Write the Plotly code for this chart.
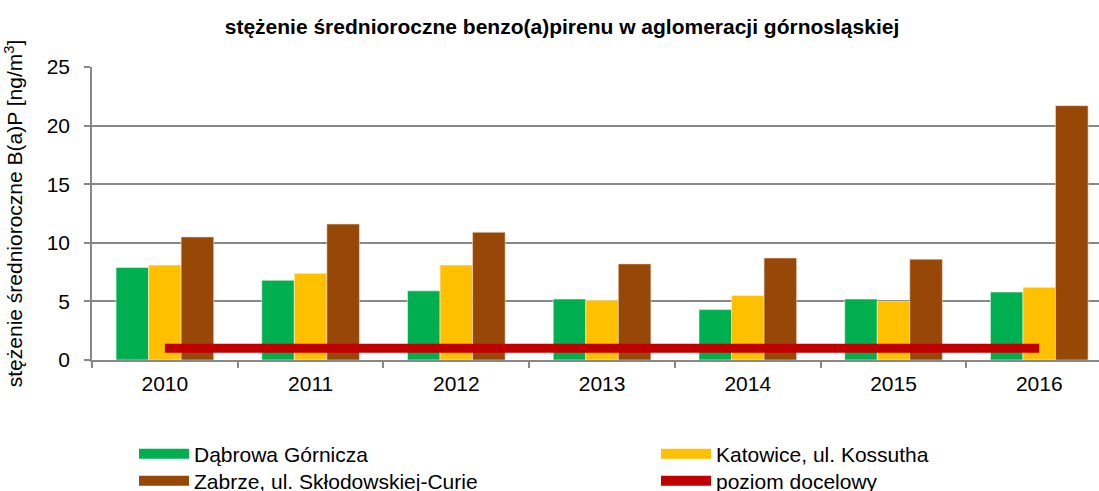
import plotly.graph_objects as go

years = ["2010", "2011", "2012", "2013", "2014", "2015", "2016"]
dabrowa = [7.9, 6.8, 5.9, 5.2, 4.3, 5.2, 5.8]
katowice = [8.1, 7.4, 8.1, 5.1, 5.5, 5.0, 6.2]
zabrze = [10.5, 11.6, 10.9, 8.2, 8.7, 8.6, 21.7]
poziom = [1, 1, 1, 1, 1, 1, 1]

names = ["Dąbrowa Górnicza", "Katowice, ul. Kossutha",
         "Zabrze, ul. Skłodowskiej-Curie", "poziom docelowy"]
colors = ["#00B050", "#FFC000", "#974706", "#C00000"]
edge = ["#E6F5EA", "#FFF3D6", "#F0DCCB"]

FONT = "Liberation Sans, Arial, sans-serif"
FS = 21

fig = go.Figure()
for vals, nm, c, e in zip([dabrowa, katowice, zabrze], names[:3], colors[:3], edge):
    fig.add_trace(go.Bar(x=years, y=vals, name=nm, showlegend=False,
                         marker=dict(color=c, line=dict(color=e, width=0.6))))
fig.add_trace(go.Scatter(x=years, y=poziom, name=names[3], mode="lines",
                         line=dict(color=colors[3], width=9), showlegend=False))

# legend entries (one legend per entry, placed in a 2x2 grid)
legend_ids = ["legend", "legend2", "legend3", "legend4"]
for nm, c, lid in zip(names, colors, legend_ids):
    fig.add_trace(go.Scatter(x=[None], y=[None], name=nm, mode="lines",
                             line=dict(color=c, width=10), legend=lid,
                             showlegend=True))

def px_to_paper(px, py):
    return (px - 92) / 1007, (360 - py) / 293

legend_common = dict(orientation="h", xanchor="left", yanchor="middle",
                     font=dict(family=FONT, size=FS, color="#000"),
                     bgcolor="rgba(0,0,0,0)", itemwidth=50)
positions = [(134, 454), (656, 454), (134, 481), (656, 481)]
legend_layout = {}
for lid, (px, py) in zip(legend_ids, positions):
    lx, ly = px_to_paper(px, py)
    legend_layout[lid] = dict(legend_common, x=lx, y=ly)

fig.update_layout(
    width=1099, height=491,
    margin=dict(l=92, r=0, t=67, b=131, autoexpand=False),
    paper_bgcolor="white", plot_bgcolor="white",
    font=dict(family=FONT, size=FS, color="#000"),
    title=dict(text="<b>stężenie średnioroczne benzo(a)pirenu w aglomeracji górnosląskiej</b>",
               x=562/1099, xanchor="center", y=1-27/491, yanchor="middle",
               font=dict(family=FONT, size=21, color="#000")),
    barmode="group", bargap=0.33, bargroupgap=0,
    xaxis=dict(range=[-0.5, 6.41], showline=True, linecolor="#888", linewidth=1.5,
               ticks="outside", tickson="boundaries", ticklen=6, tickcolor="#888",
               tickwidth=1.5, ticklabelstandoff=4,
               tickfont=dict(family=FONT, size=FS, color="#000"), showgrid=False),
    yaxis=dict(range=[0, 25], dtick=5, showline=True, linecolor="#888", linewidth=1.5,
               ticks="outside", ticklen=6, tickcolor="#888", tickwidth=1.5,
               ticklabelstandoff=10,
               gridcolor="#888", gridwidth=1.5, zeroline=False,
               tickfont=dict(family=FONT, size=FS, color="#000"),
               title=dict(text="stężenie średnioroczne B(a)P [ng/m<sup>3</sup>]",
                          font=dict(family=FONT, size=FS, color="#000"), standoff=18)),
    **legend_layout,
)

fig.write_html("out.html")
